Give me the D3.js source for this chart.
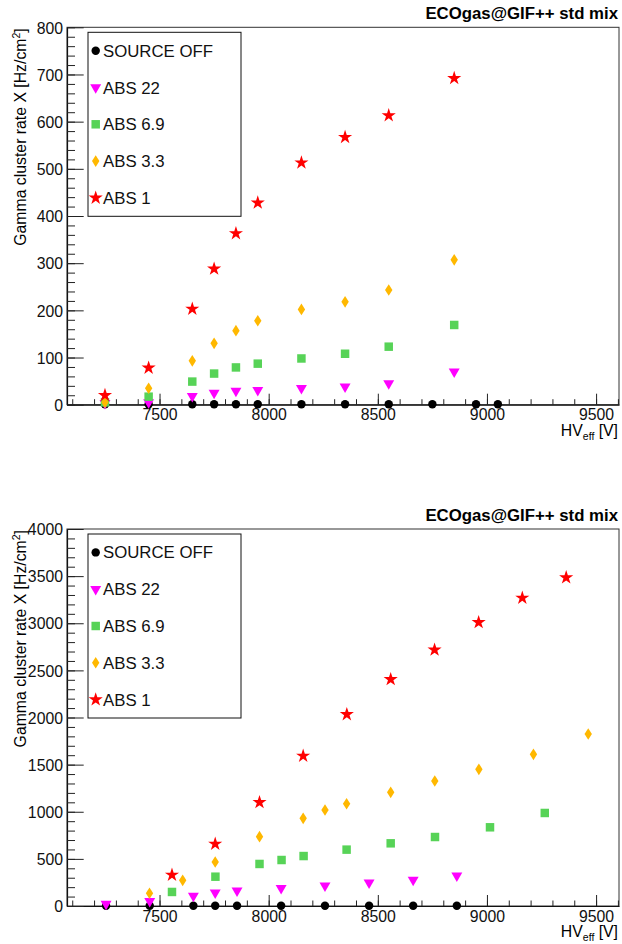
<!DOCTYPE html>
<html>
<head>
<meta charset="utf-8">
<script src="https://cdn.jsdelivr.net/npm/d3@7"></script>
<style>
  body { margin: 0; background: #fff; }
  svg text { font-family: "Liberation Sans", Arial, sans-serif; }
</style>
</head>
<body>
<div id="chart"></div>
<script>
// series labels
const seriesNames = ["SOURCE OFF", "ABS 22", "ABS 6.9", "ABS 3.3", "ABS 1"];

// top panel data (HV_eff in V, rate in Hz/cm2)
const topOffHV = [7250, 7450, 7650, 7750, 7850, 7950, 8150, 8350, 8550, 8750, 8950, 9050];
const topOffRate = [1, 1, 1, 1, 1, 1, 1, 1, 1, 1, 1, 1];
const topAbs22HV = [7250, 7450, 7650, 7750, 7850, 7950, 8150, 8350, 8550, 8850];
const topAbs22Rate = [3, 5, 18, 25, 29, 31, 35, 38, 45, 70];
const topAbs69HV = [7250, 7450, 7650, 7750, 7850, 7950, 8150, 8350, 8550, 8850];
const topAbs69Rate = [5, 17, 49, 66, 79, 87, 98, 108, 123, 169];
const topAbs33HV = [7250, 7450, 7650, 7750, 7850, 7950, 8150, 8350, 8550, 8850];
const topAbs33Rate = [5, 35, 93, 130, 157, 178, 202, 218, 243, 307];
const topAbs1HV = [7250, 7450, 7650, 7750, 7850, 7950, 8150, 8350, 8550, 8850];
const topAbs1Rate = [20, 78, 203, 288, 363, 428, 513, 567, 613, 692];

// bottom panel data
const botOffHV = [7255, 7455, 7655, 7755, 7855, 8057, 8258, 8460, 8662, 8862];
const botOffRate = [2, 2, 2, 2, 2, 2, 2, 2, 2, 2];
const botAbs22HV = [7255, 7455, 7655, 7755, 7855, 8057, 8258, 8460, 8662, 8862];
const botAbs22Rate = [22, 50, 106, 141, 162, 188, 216, 248, 276, 322];
const botAbs69HV = [7557, 7756, 7958, 8059, 8160, 8357, 8559, 8762, 9014, 9265];
const botAbs69Rate = [149, 311, 446, 488, 530, 598, 665, 732, 835, 987];
const botAbs33HV = [7454, 7606, 7755, 7958, 8158, 8258, 8357, 8559, 8761, 8963, 9213, 9464];
const botAbs33Rate = [135, 272, 467, 736, 930, 1018, 1085, 1206, 1326, 1450, 1609, 1825];
const botAbs1HV = [7557, 7755, 7958, 8158, 8358, 8559, 8760, 8962, 9162, 9363];
const botAbs1Rate = [329, 658, 1100, 1592, 2033, 2405, 2718, 3010, 3268, 3485];

const xDomain = [7076, 9605];
const xMajor = [7500, 8000, 8500, 9000, 9500];
const xMinor = d3.range(7100, 9601, 100);

const colors = ["#000000", "#ff00ff", "#57d357", "#ffb800", "#ff0000"];

const width = 622, height = 944;
const svg = d3.select("#chart").append("svg").attr("width", width).attr("height", height);

const diamondPath = "M0,-5.8L3.7,0L0,5.8L-3.7,0Z";
const symbols = [
  d3.symbol(d3.symbolCircle, 56)(),
  d3.symbol(d3.symbolTriangle, 52)(),
  d3.symbol(d3.symbolSquare, 72)(),
  diamondPath,
  d3.symbol(d3.symbolStar, 62)()
];
const rotations = [0, 180, 0, 0, 0];
const fmt = d3.format("d");

function panel(top, bottom, yMax, yMajorStep, yMinorStep, series) {
  const left = 67, right = 619;
  const x = d3.scaleLinear().domain(xDomain).range([left, right]);
  const y = d3.scaleLinear().domain([0, yMax]).range([bottom, top]);
  const g = svg.append("g");

  // frame
  g.append("rect").attr("x", left).attr("y", top).attr("width", right - left).attr("height", bottom - top)
    .attr("fill", "none").attr("stroke", "#333").attr("stroke-width", 1);

  // x axis
  g.append("g").attr("transform", `translate(0,${bottom})`)
    .call(d3.axisBottom(x).tickValues(xMajor).tickFormat(fmt).tickSize(-11).tickSizeOuter(0).tickPadding(4.5));
  g.append("g").attr("transform", `translate(0,${bottom})`)
    .call(d3.axisBottom(x).tickValues(xMinor).tickSize(-5.5).tickSizeOuter(0).tickFormat(""))
    .select(".domain").remove();

  // y axis
  const yAx = g.append("g").attr("transform", `translate(${left},0)`)
    .call(d3.axisLeft(y).tickValues(d3.range(0, yMax + 1, yMajorStep)).tickFormat(fmt).tickSize(-16.7).tickSizeOuter(0).tickPadding(4));
  g.append("g").attr("transform", `translate(${left},0)`)
    .call(d3.axisLeft(y).tickValues(d3.range(0, yMax + 1, yMinorStep)).tickSize(-8).tickSizeOuter(0).tickFormat(""))
    .select(".domain").remove();

  g.selectAll(".tick line").attr("stroke", "#222");
  g.selectAll(".domain").attr("stroke", "#111").attr("stroke-width", 1.2);
  g.selectAll(".tick text").attr("font-size", 15.8).attr("fill", "#111")
    .attr("font-family", '"Liberation Sans", Arial, sans-serif');
  yAx.selectAll(".tick text").attr("dy", "0.36em");

  // title
  g.append("text").attr("x", 618).attr("y", top - 8).attr("text-anchor", "end")
    .attr("font-size", 16.8).attr("font-weight", "bold").text("ECOgas@GIF++ std mix");

  // x title
  const xt = g.append("text").attr("x", 618).attr("y", bottom + 31).attr("text-anchor", "end").attr("font-size", 15.8);
  xt.append("tspan").text("HV");
  xt.append("tspan").attr("font-size", 10.5).attr("dy", 4).text("eff");
  xt.append("tspan").attr("dy", -4).text(" [V]");

  // y title
  const yt = g.append("text").attr("transform", `translate(25.5,${top + 1}) rotate(-90)`)
    .attr("text-anchor", "end").attr("font-size", 15.8);
  yt.append("tspan").text("Gamma cluster rate X [Hz/cm");
  yt.append("tspan").attr("font-size", 10.5).attr("dy", -6).text("2");
  yt.append("tspan").attr("dy", 6).text("]");

  // points
  series.forEach((s, i) => {
    g.append("g").selectAll("path").data(s.hv.map((v, j) => [v, s.rate[j]])).enter().append("path")
      .attr("d", symbols[i])
      .attr("transform", (d) => `translate(${x(d[0])},${y(d[1])}) rotate(${rotations[i]})`)
      .attr("fill", colors[i]);
  });

  // legend
  const lx = 88, ly = top + 5, lw = 153, lh = 184;
  const leg = g.append("g");
  leg.append("rect").attr("x", lx).attr("y", ly).attr("width", lw).attr("height", lh)
    .attr("fill", "#fff").attr("stroke", "#111").attr("stroke-width", 1);
  seriesNames.forEach((name, i) => {
    const cy = ly + (lh / 5) * (i + 0.5);
    leg.append("path").attr("d", symbols[i])
      .attr("transform", `translate(95.7,${cy}) rotate(${rotations[i]})`).attr("fill", colors[i]);
    leg.append("text").attr("x", 103).attr("y", cy).attr("dy", "0.36em")
      .attr("font-size", 16.8).attr("fill", "#111").text(name);
  });
}

panel(27.3, 404.7, 800, 100, 20, [
  { hv: topOffHV, rate: topOffRate },
  { hv: topAbs22HV, rate: topAbs22Rate },
  { hv: topAbs69HV, rate: topAbs69Rate },
  { hv: topAbs33HV, rate: topAbs33Rate },
  { hv: topAbs1HV, rate: topAbs1Rate }
]);

panel(529, 906, 4000, 500, 100, [
  { hv: botOffHV, rate: botOffRate },
  { hv: botAbs22HV, rate: botAbs22Rate },
  { hv: botAbs69HV, rate: botAbs69Rate },
  { hv: botAbs33HV, rate: botAbs33Rate },
  { hv: botAbs1HV, rate: botAbs1Rate }
]);
</script>
</body>
</html>
